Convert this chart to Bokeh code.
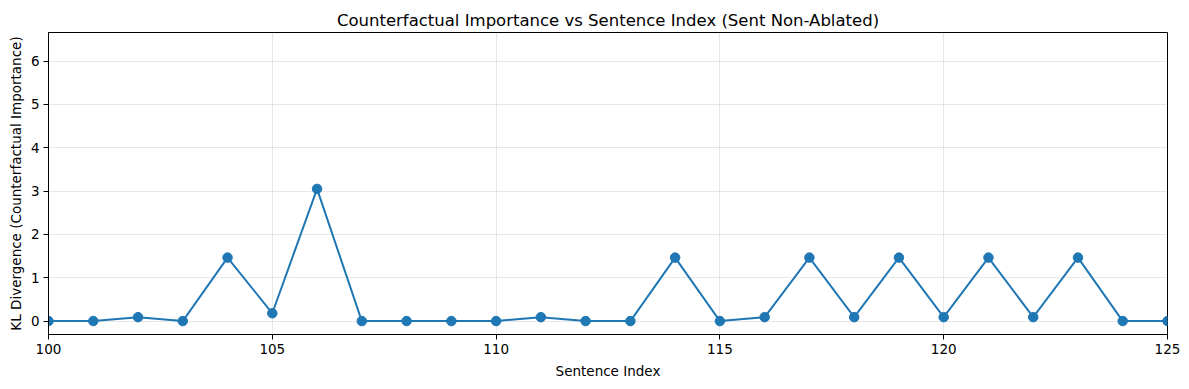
from bokeh.plotting import figure
from bokeh.models import Range1d, FixedTicker, ColumnDataSource
from bokeh.embed import file_html
from bokeh.resources import INLINE

sentence_index = list(range(100, 126))
kl_divergence = [0.0, 0.0, 0.09, 0.0, 1.465, 0.18, 3.05, 0.0, 0.0, 0.0,
                 0.0, 0.09, 0.0, 0.0, 1.465, 0.0, 0.09, 1.465, 0.09, 1.465,
                 0.09, 1.465, 0.09, 1.465, 0.0, 0.0]
x_ticks = [100, 105, 110, 115, 120, 125]
y_ticks = [0, 1, 2, 3, 4, 5, 6]

FONT = "DejaVu Sans"
COLOR = "#1f77b4"

src = ColumnDataSource(dict(x=sentence_index, y=kl_divergence))

p = figure(width=1181, height=381, output_backend="svg", toolbar_location=None,
           x_range=Range1d(100, 125), y_range=Range1d(-0.31, 6.66),
           title="Counterfactual Importance vs Sentence Index (Sent Non-Ablated)")
p.min_border_left = 48
p.min_border_right = 14
p.min_border_bottom = 44
p.min_border_top = 32
p.border_fill_color = "white"

p.title.align = "center"
p.title.text_font = FONT
p.title.text_font_size = "16.5px"
p.title.text_font_style = "normal"
p.title.text_color = "black"
p.title.standoff = 6

p.outline_line_color = "black"
p.outline_line_width = 1
p.outline_line_alpha = 1

p.line("x", "y", source=src, line_color=COLOR, line_width=2)
p.scatter("x", "y", source=src, size=9.5, fill_color=COLOR, line_color=COLOR)

p.xaxis.ticker = FixedTicker(ticks=x_ticks)
p.yaxis.ticker = FixedTicker(ticks=y_ticks)
p.xaxis.axis_label = "Sentence Index"
p.yaxis.axis_label = "KL Divergence (Counterfactual Importance)"
for ax in (p.xaxis, p.yaxis):
    ax.axis_line_color = "black"
    ax.major_tick_line_color = "black"
    ax.major_tick_out = 5
    ax.major_tick_in = 0
    ax.minor_tick_line_color = None
    ax.major_label_text_font = FONT
    ax.major_label_text_font_size = "13.5px"
    ax.major_label_text_color = "black"
    ax.axis_label_text_font = FONT
    ax.axis_label_text_font_size = "13.5px"
    ax.axis_label_text_font_style = "normal"
    ax.axis_label_text_color = "black"
p.xaxis.major_label_standoff = 4
p.yaxis.major_label_standoff = 4
p.xaxis.axis_label_standoff = 6
p.yaxis.axis_label_standoff = 4

p.xgrid.ticker = FixedTicker(ticks=x_ticks)
p.ygrid.ticker = FixedTicker(ticks=y_ticks)
for g in (p.xgrid, p.ygrid):
    g.grid_line_color = "#b0b0b0"
    g.grid_line_alpha = 0.3
    g.grid_line_width = 1

open("out.html", "w").write(file_html(p, INLINE))
